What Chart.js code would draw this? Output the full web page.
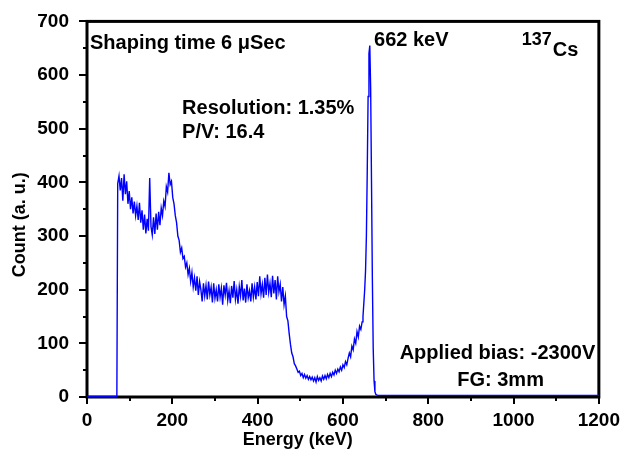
<!DOCTYPE html>
<html>
<head>
<meta charset="utf-8">
<script src="https://cdn.jsdelivr.net/npm/chart.js@4/dist/chart.umd.min.js"></script>
<style>
  body { margin: 0; background: #fff; }
  canvas { display: block; }
</style>
</head>
<body>
<canvas id="spectrum" width="625" height="456"></canvas>
<script>
// 137Cs spectrum, energies in keV, counts in a.u.
const energies = [
  0, 70,
  72, 75, 78, 81, 84, 87, 90, 93, 96, 99,
  102, 105, 108, 111, 114, 117, 120, 123, 126, 129,
  132, 135, 138, 141, 144, 147, 150, 153, 156, 159,
  162, 165, 168, 171, 174, 177, 180, 183, 186, 189,
  192, 195, 198, 201, 204, 207, 210, 213, 216, 219,
  222, 225, 228, 231, 234, 237, 240, 243, 246, 249,
  252, 255, 258, 261, 264, 267, 270, 273, 276, 279,
  282, 285, 288, 291, 294, 297, 300, 303, 306, 309,
  312, 315, 318, 321, 324, 327, 330, 333, 336, 339,
  342, 345, 348, 351, 354, 357, 360, 363, 366, 369,
  372, 375, 378, 381, 384, 387, 390, 393, 396, 399,
  402, 405, 408, 411, 414, 417, 420, 423, 426, 429,
  432, 435, 438, 441, 444, 447, 450, 453, 456, 459,
  462, 465, 468, 471, 474, 477, 480, 483, 486, 489,
  492, 495, 498, 501, 504, 507, 510, 513, 516, 519,
  522, 525, 528, 531, 534, 537, 540, 543, 546, 549,
  552, 555, 558, 561, 564, 567, 570, 573, 576, 579,
  582, 585, 588, 591, 594, 597, 600, 603, 606, 609,
  612, 615, 618, 621, 624, 627, 630, 633, 636, 639,
  642, 645,
  647, 649, 651, 653, 655, 657, 659, 661, 663, 665,
  667, 669, 671, 673, 675, 677, 679, 682, 690, 700,
  800, 900, 1000, 1100, 1200
];
const counts = [
  1, 1,
  398, 412, 385, 408, 366, 415, 378, 402, 360, 384,
  350, 372, 342, 364, 338, 356, 330, 362, 325, 348,
  312, 340, 305, 332, 310, 408, 318, 302, 335, 304,
  342, 312, 345, 320, 352, 338, 365, 355, 392, 382,
  418, 396, 402, 372, 360, 338, 325, 300, 292, 270,
  278, 258, 262, 242, 250, 228, 240, 215, 232, 205,
  222, 198, 225, 190, 215, 200, 178, 212, 188, 208,
  182, 215, 190, 205, 176, 212, 184, 200, 178, 210,
  186, 203, 172, 208, 190, 213, 180, 198, 175, 207,
  185, 216, 182, 200, 174, 206, 188, 218, 180, 202,
  176, 210, 185, 198, 178, 212, 186, 205, 182, 214,
  188, 225, 192, 210, 185, 222, 190, 228, 195, 212,
  186, 226, 193, 218, 182, 225, 196, 210, 178, 205,
  172, 188, 150, 142, 118, 98, 82, 75, 62, 58,
  52, 46, 48, 40, 44, 36, 42, 35, 40, 33,
  38, 32, 37, 30, 36, 28, 38, 31, 36, 30,
  39, 33, 40, 34, 42, 36, 44, 38, 46, 41,
  50, 44, 52, 47, 56, 50, 60, 55, 66, 60,
  72, 82, 75, 95, 88, 108, 100, 122, 112, 132,
  126, 140,
  150, 175, 200, 235, 300, 420, 560, 640, 655, 575,
  400, 220, 90, 30, 10, 5, 4, 3, 3, 3,
  3, 3, 3, 3, 3
];

const xTicksMinor = [100, 300, 500, 700, 900, 1100];
const yTicksMinor = [50, 150, 250, 350, 450, 550, 650];

// text notes, placed in data units (keV, count)
const notes = [
  { text: 'Shaping time 6 \u03BCSec', x: 7, y: 649 },
  { text: '662 keV', x: 673, y: 654 },
  { text: 'Resolution: 1.35%', x: 223, y: 527 },
  { text: 'P/V: 16.4', x: 223, y: 483 },
  { text: 'Applied bias: -2300V', x: 733, y: 70 },
  { text: 'FG: 3mm', x: 868, y: 20 }
];
const isotope = { mass: '137', symbol: 'Cs', x: 1019, y: 656 };
const xTitle = { text: 'Energy (keV)', x: 494 };
const yTitle = { text: 'Count (a. u.)', y: 321 };

const FONT = '"Liberation Sans", Arial, sans-serif';

const framePlugin = {
  id: 'frame',
  beforeDatasetsDraw(chart) {
    const { ctx, chartArea: a, scales } = chart;
    ctx.save();
    ctx.strokeStyle = '#000';
    ctx.lineWidth = 2;
    xTicksMinor.forEach((v) => {
      const px = Math.round(scales.x.getPixelForValue(v));
      ctx.beginPath();
      ctx.moveTo(px, a.bottom);
      ctx.lineTo(px, a.bottom + 4);
      ctx.stroke();
    });
    yTicksMinor.forEach((v) => {
      const py = Math.round(scales.y.getPixelForValue(v));
      ctx.beginPath();
      ctx.moveTo(a.left, py);
      ctx.lineTo(a.left - 4, py);
      ctx.stroke();
    });
    ctx.lineWidth = 3;
    ctx.strokeRect(a.left, a.top, a.right - a.left, a.bottom - a.top);
    ctx.restore();
  },
  afterDraw(chart) {
    const { ctx, scales } = chart;
    ctx.save();
    ctx.fillStyle = '#000';
    ctx.font = 'bold 20px ' + FONT;
    ctx.textBaseline = 'alphabetic';
    ctx.textAlign = 'left';
    notes.forEach((n) => {
      ctx.fillText(n.text, scales.x.getPixelForValue(n.x), scales.y.getPixelForValue(n.y));
    });
    const ix = scales.x.getPixelForValue(isotope.x);
    const iy = scales.y.getPixelForValue(isotope.y);
    ctx.font = 'bold 18px ' + FONT;
    ctx.fillText(isotope.mass, ix, iy);
    const w = ctx.measureText(isotope.mass).width;
    ctx.font = 'bold 20px ' + FONT;
    ctx.fillText(isotope.symbol, ix + w + 1, iy + 11);

    // axis titles
    ctx.font = 'bold 18px ' + FONT;
    ctx.textAlign = 'center';
    ctx.textBaseline = 'middle';
    ctx.fillText(xTitle.text, scales.x.getPixelForValue(xTitle.x), 440);
    ctx.translate(20, scales.y.getPixelForValue(yTitle.y));
    ctx.rotate(-Math.PI / 2);
    ctx.fillText(yTitle.text, 0, 0);
    ctx.restore();
  }
};

new Chart(document.getElementById('spectrum'), {
  type: 'line',
  data: {
    datasets: [{
      data: energies.map((e, i) => ({ x: e, y: counts[i] })),
      borderColor: '#0000ff',
      borderWidth: 1.4,
      pointRadius: 0,
      tension: 0,
      clip: 3,
    }],
  },
  options: {
    responsive: false,
    animation: false,
    layout: { padding: { left: 0, right: 21, top: 16, bottom: 0 } },
    plugins: { legend: { display: false }, tooltip: { enabled: false } },
    scales: {
      x: {
        type: 'linear',
        min: 0,
        max: 1200,
        afterFit(scale) { scale.height = 59; },
        border: { display: false },
        grid: { drawOnChartArea: false, tickLength: 7, tickColor: '#000', lineWidth: 2 },
        ticks: {
          stepSize: 200,
          autoSkip: false,
          maxRotation: 0,
          padding: 5,
          color: '#000',
          font: { family: FONT, size: 19, weight: 'bold' },
          callback: (v) => String(v),
        },
      },
      y: {
        min: 0,
        max: 700,
        afterFit(scale) { scale.width = 87; },
        border: { display: false },
        grid: { drawOnChartArea: false, tickLength: 8, tickColor: '#000', lineWidth: 2 },
        ticks: {
          stepSize: 100,
          autoSkip: false,
          padding: 10,
          color: '#000',
          font: { family: FONT, size: 19, weight: 'bold' },
          callback: (v) => String(v),
        },
      },
    },
  },
  plugins: [framePlugin],
});
</script>
</body>
</html>
